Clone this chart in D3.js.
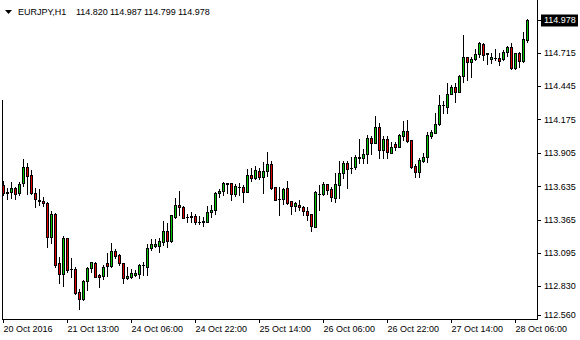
<!DOCTYPE html>
<html>
<head>
<meta charset="utf-8">
<script src="https://cdn.jsdelivr.net/npm/d3@7/dist/d3.min.js"></script>
<style>
  body { margin: 0; background: #fff; }
  svg { display: block; font-family: "Liberation Sans", Arial, sans-serif; }
</style>
</head>
<body>
<svg id="chart" width="580" height="340"></svg>
<script>
// EURJPY H1, 20 Oct 2016 21:00 .. 28 Oct 2016 09:00 (132 bars)
const symbol = 'EURJPY,H1';

const opens = [
  113.644, 113.584, 113.584, 113.617, 113.576, 113.657, 113.788, 113.726, 113.577, 113.522,
  113.516, 113.497, 113.225, 113.412, 113.011, 112.923, 113.214, 112.965, 112.966, 112.776,
  112.719, 112.870, 112.970, 113.016, 112.917, 112.910, 113.010, 112.989, 113.110, 113.078,
  113.011, 112.889, 112.900, 112.916, 112.924, 112.997, 112.984, 113.134, 113.150, 113.150,
  113.184, 113.272, 113.190, 113.387, 113.482, 113.463, 113.388, 113.385, 113.394, 113.347,
  113.350, 113.349, 113.423, 113.442, 113.576, 113.595, 113.658, 113.658, 113.568, 113.630,
  113.631, 113.588, 113.725, 113.698, 113.758, 113.709, 113.757, 113.815, 113.626, 113.533,
  113.533, 113.621, 113.512, 113.477, 113.480, 113.466, 113.431, 113.408, 113.308, 113.574,
  113.570, 113.652, 113.612, 113.543, 113.645, 113.740, 113.822, 113.781, 113.787, 113.868,
  113.862, 113.895, 114.024, 113.987, 114.115, 113.929, 114.016, 113.905, 113.979, 113.953,
  114.043, 114.081, 114.009, 113.800, 113.751, 113.840, 113.869, 114.040, 114.069, 114.136,
  114.292, 114.277, 114.380, 114.440, 114.398, 114.524, 114.677, 114.641, 114.661, 114.703,
  114.785, 114.710, 114.661, 114.674, 114.669, 114.661, 114.717, 114.758, 114.591, 114.710,
  114.648, 114.820
];
const highs = [
  113.679, 113.617, 113.666, 113.625, 113.666, 113.856, 113.826, 113.767, 113.618, 113.610,
  113.549, 113.510, 113.430, 113.415, 113.065, 113.234, 113.216, 113.052, 112.984, 112.801,
  112.877, 112.984, 113.024, 113.021, 112.925, 112.997, 113.092, 113.173, 113.124, 113.086,
  113.016, 112.978, 112.965, 112.957, 113.005, 113.022, 113.168, 113.207, 113.207, 113.215,
  113.354, 113.337, 113.403, 113.540, 113.597, 113.471, 113.410, 113.429, 113.408, 113.397,
  113.388, 113.477, 113.482, 113.591, 113.611, 113.666, 113.663, 113.663, 113.652, 113.663,
  113.645, 113.772, 113.785, 113.801, 113.785, 113.832, 113.913, 113.840, 113.629, 113.629,
  113.621, 113.675, 113.514, 113.504, 113.526, 113.471, 113.463, 113.410, 113.594, 113.647,
  113.669, 113.655, 113.626, 113.742, 113.837, 113.841, 113.836, 113.869, 113.886, 114.020,
  113.935, 114.048, 114.044, 114.206, 114.147, 114.041, 114.041, 113.992, 113.994, 114.055,
  114.163, 114.171, 114.011, 113.812, 113.866, 113.901, 114.076, 114.089, 114.225, 114.374,
  114.327, 114.473, 114.453, 114.472, 114.534, 114.859, 114.679, 114.682, 114.743, 114.804,
  114.794, 114.715, 114.715, 114.743, 114.710, 114.737, 114.769, 114.791, 114.712, 114.723,
  114.881, 114.987
];
const lows = [
  113.562, 113.535, 113.540, 113.529, 113.562, 113.635, 113.575, 113.572, 113.467, 113.481,
  113.473, 113.142, 113.171, 112.980, 112.848, 112.827, 112.941, 112.902, 112.761, 112.637,
  112.716, 112.794, 112.943, 112.900, 112.816, 112.881, 112.907, 112.981, 113.050, 112.996,
  112.848, 112.886, 112.892, 112.908, 112.892, 112.916, 112.915, 113.117, 113.142, 113.101,
  113.157, 113.141, 113.184, 113.376, 113.401, 113.374, 113.347, 113.347, 113.328, 113.328,
  113.312, 113.341, 113.382, 113.407, 113.548, 113.562, 113.576, 113.521, 113.556, 113.562,
  113.503, 113.586, 113.676, 113.690, 113.690, 113.583, 113.716, 113.613, 113.520, 113.400,
  113.492, 113.489, 113.409, 113.431, 113.444, 113.404, 113.363, 113.273, 113.306, 113.443,
  113.560, 113.570, 113.511, 113.510, 113.542, 113.700, 113.623, 113.740, 113.776, 113.821,
  113.821, 113.824, 113.894, 113.982, 113.861, 113.864, 113.864, 113.902, 113.927, 113.951,
  114.007, 113.996, 113.783, 113.708, 113.708, 113.832, 113.829, 114.021, 114.066, 114.128,
  114.224, 114.223, 114.377, 114.317, 114.396, 114.477, 114.497, 114.518, 114.655, 114.681,
  114.654, 114.620, 114.633, 114.655, 114.614, 114.655, 114.687, 114.586, 114.580, 114.600,
  114.640, 114.799
];
const closes = [
  113.576, 113.576, 113.617, 113.568, 113.650, 113.788, 113.717, 113.576, 113.528, 113.514,
  113.500, 113.224, 113.411, 113.000, 112.924, 113.215, 112.960, 112.961, 112.772, 112.719,
  112.871, 112.971, 113.019, 112.902, 112.903, 112.978, 112.990, 113.110, 113.069, 113.010,
  112.889, 112.908, 112.932, 112.935, 112.997, 112.995, 113.136, 113.166, 113.166, 113.191,
  113.272, 113.190, 113.403, 113.482, 113.463, 113.380, 113.385, 113.394, 113.345, 113.345,
  113.347, 113.423, 113.442, 113.578, 113.595, 113.658, 113.656, 113.568, 113.638, 113.628,
  113.590, 113.725, 113.698, 113.766, 113.706, 113.758, 113.814, 113.619, 113.525, 113.530,
  113.615, 113.497, 113.477, 113.498, 113.463, 113.431, 113.404, 113.309, 113.586, 113.571,
  113.652, 113.606, 113.544, 113.652, 113.741, 113.822, 113.776, 113.779, 113.869, 113.865,
  113.895, 114.025, 113.988, 114.114, 113.929, 114.016, 113.908, 113.949, 113.953, 114.049,
  114.081, 113.999, 113.786, 113.751, 113.847, 113.870, 114.049, 114.070, 114.137, 114.292,
  114.289, 114.381, 114.440, 114.399, 114.526, 114.677, 114.641, 114.663, 114.704, 114.791,
  114.695, 114.707, 114.677, 114.671, 114.649, 114.718, 114.758, 114.591, 114.710, 114.649,
  114.823, 114.978
];

const priceTicks = [114.715, 114.445, 114.175, 113.905, 113.635, 113.365, 113.095, 112.830, 112.560];
const timeTickIdx = [0, 16, 32, 48, 64, 80, 96, 112, 128];
const timeTickLabels = ['20 Oct 2016', '21 Oct 13:00', '24 Oct 06:00', '24 Oct 22:00',
  '25 Oct 14:00', '26 Oct 06:00', '26 Oct 22:00', '27 Oct 14:00', '28 Oct 06:00'];

const bullColor = '#00c800';
const bearColor = '#e00000';

const svg = d3.select('#chart');
const plotLeft = 2, plotRight = 537, plotBottom = 319;

const x = d3.scaleLinear().domain([0, opens.length - 1]).range([3, 527]);
const y = d3.scaleLinear().domain([112.560, 114.715]).range([319, 52.7]);

const candles = opens.map((o, i) => ({ i, o, h: highs[i], l: lows[i], c: closes[i] }));
const px = v => Math.round(y(v));

// frame
const frame = svg.append('g').attr('shape-rendering', 'crispEdges').attr('stroke', '#000');
frame.append('line').attr('x1', plotLeft + 0.5).attr('x2', plotLeft + 0.5).attr('y1', 100).attr('y2', plotBottom + 1);
frame.append('line').attr('x1', plotLeft).attr('x2', plotRight + 1).attr('y1', plotBottom + 0.5).attr('y2', plotBottom + 0.5);
frame.append('line').attr('x1', plotRight + 0.5).attr('x2', plotRight + 0.5).attr('y1', 0).attr('y2', plotBottom + 1);

// candles
const bars = svg.append('g').attr('shape-rendering', 'crispEdges')
  .selectAll('g').data(candles).join('g');

bars.append('rect')
  .attr('x', d => Math.round(x(d.i)))
  .attr('y', d => px(d.h))
  .attr('width', 1)
  .attr('height', d => px(d.l) - px(d.h) + 1)
  .attr('fill', '#000');

const bodyTop = d => px(Math.max(d.o, d.c));
const bodyH = d => px(Math.min(d.o, d.c)) - bodyTop(d) + 1;

bars.append('rect')
  .attr('x', d => Math.round(x(d.i)) - 1)
  .attr('y', bodyTop)
  .attr('width', 3)
  .attr('height', bodyH)
  .attr('fill', '#000');

bars.filter(d => bodyH(d) > 2).append('rect')
  .attr('x', d => Math.round(x(d.i)))
  .attr('y', d => bodyTop(d) + 1)
  .attr('width', 1)
  .attr('height', d => bodyH(d) - 2)
  .attr('fill', d => d.c >= d.o ? bullColor : bearColor);

// price axis
const yAxis = svg.append('g')
  .attr('transform', `translate(${plotRight},0)`)
  .call(d3.axisRight(y).tickValues(priceTicks).tickFormat(d3.format('.3f')).tickSize(4).tickPadding(3));
yAxis.select('.domain').remove();
yAxis.selectAll('text').attr('font-family', '"Liberation Sans", Arial, sans-serif').attr('font-size', 9).attr('fill', '#000');
yAxis.selectAll('.tick line').attr('shape-rendering', 'crispEdges');
// bottom label is pushed up to stay inside the window
yAxis.selectAll('.tick').filter(d => d === 112.560).attr('transform', 'translate(0,315.5)');

// current price marker
const last = closes[closes.length - 1];
const cp = svg.append('g').attr('transform', `translate(${plotRight},${Math.round(y(last)) + 0.5})`);
cp.append('line').attr('x1', 0).attr('x2', 4).attr('stroke', '#000').attr('shape-rendering', 'crispEdges');
cp.append('rect').attr('x', 4).attr('y', -6).attr('width', 37).attr('height', 12).attr('fill', '#000');
cp.append('text').attr('x', 7).attr('dy', '0.32em').attr('font-size', 9).attr('fill', '#fff')
  .text(d3.format('.3f')(last));

// time axis
const xAxis = svg.append('g')
  .attr('transform', `translate(0,${plotBottom})`)
  .call(d3.axisBottom(x).tickValues(timeTickIdx).tickFormat((d, i) => timeTickLabels[i]).tickSize(4));
xAxis.select('.domain').remove();
xAxis.selectAll('.tick line').attr('shape-rendering', 'crispEdges');
xAxis.selectAll('text')
  .attr('font-family', '"Liberation Sans", Arial, sans-serif').attr('font-size', 9).attr('fill', '#000')
  .attr('text-anchor', 'start').attr('x', 0).attr('y', 13).attr('dy', 0);

// header
svg.append('path').attr('d', 'M5,10 L12,10 L8.5,14 Z').attr('fill', '#000');
const head = svg.append('text').attr('y', 15).attr('font-size', 9).attr('fill', '#000');
head.append('tspan').attr('x', 18).text(symbol);
[opens, highs, lows, closes].forEach((arr, k) => {
  head.append('tspan').attr('x', 76 + k * 34).text(d3.format('.3f')(arr[arr.length - 1]));
});
</script>
</body>
</html>
